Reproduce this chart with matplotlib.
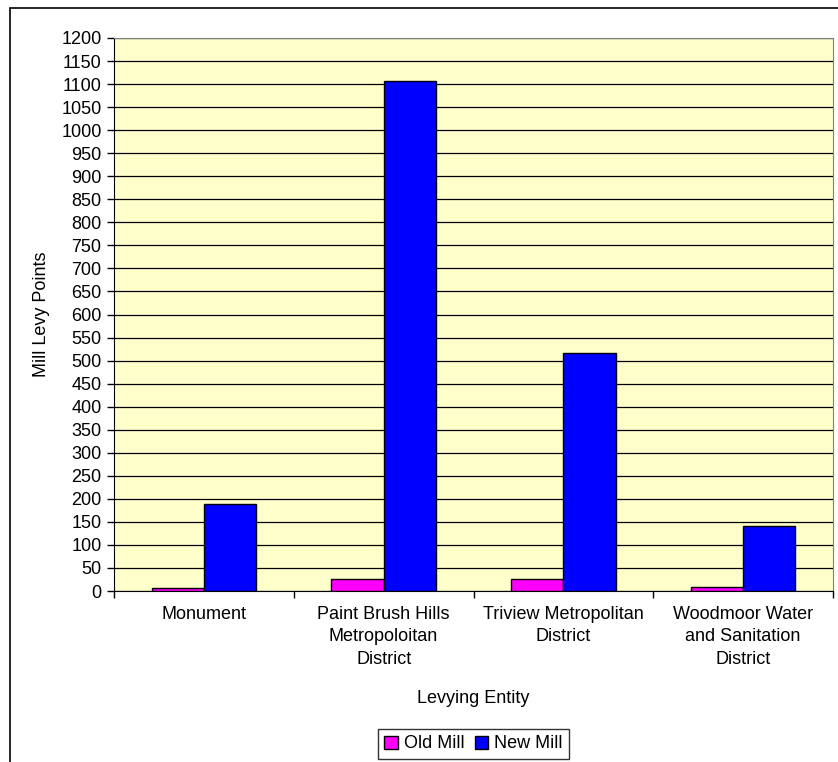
import numpy as np
import matplotlib
matplotlib.use("Agg")
import matplotlib.pyplot as plt
from matplotlib.patches import Rectangle

plt.rcParams['font.family'] = ['Liberation Sans', 'DejaVu Sans']

# data
categories = ["Monument", "Paint Brush Hills\nMetropoloitan\nDistrict",
              "Triview Metropolitan\nDistrict", "Woodmoor Water\nand Sanitation\nDistrict"]
old_mill = [6, 26, 26, 9]
new_mill = [188, 1107, 516, 141]
series_names = ["Old Mill", "New Mill"]
yticks = np.arange(0, 1201, 50)

W, H = 838, 762
fs = 13
fig = plt.figure(figsize=(W / 100, H / 100), dpi=100)

# outer chart frame (right/bottom edges run off the image)
fig.patches.append(Rectangle((10 / W, -0.2), 2, 1 - 8 / H + 0.2, transform=fig.transFigure,
                             fill=False, edgecolor="black", lw=1.2))

ax = fig.add_axes([114 / W, 1 - 591 / H, (833 - 114) / W, (591 - 38) / H])
ax.set_facecolor("#FFFFCC")

x = np.arange(len(categories))
w = 0.29
ax.bar(x - w / 2, old_mill, w, color="#FF00FF", edgecolor="black", lw=1, label=series_names[0], zorder=3)
ax.bar(x + w / 2, new_mill, w, color="#0000FF", edgecolor="black", lw=1, label=series_names[1], zorder=3)

ax.set_xlim(-0.5, len(categories) - 0.5)
ax.set_ylim(0, 1200)
ax.set_yticks(yticks)
ax.yaxis.grid(True, color="black", lw=0.9, zorder=1)
ax.tick_params(axis="y", direction="out", length=5, width=1, pad=4, labelsize=fs)

ax.set_xticks(np.arange(-0.5, len(categories)), labels=[""] * (len(categories) + 1))
ax.set_xticks(x, labels=categories, minor=True)
for lbl in ax.get_xticklabels(minor=True):
    lbl.set_linespacing(1.4)
ax.tick_params(axis="x", which="major", direction="out", length=5, width=1)
ax.tick_params(axis="x", which="minor", length=0, pad=11, labelsize=fs)

for s in ["top", "right"]:
    ax.spines[s].set_color("#808080")
for s in ["left", "bottom"]:
    ax.spines[s].set_color("black")

ax.set_ylabel("Mill Levy Points", fontsize=fs, labelpad=8)
ax.set_xlabel("Levying Entity", fontsize=fs, labelpad=16)

leg = fig.legend(loc="center", bbox_to_anchor=(473.5 / W, 1 - 744 / H), ncol=2, fontsize=fs,
                 frameon=True, fancybox=False, edgecolor="black", handlelength=0.75, handleheight=0.75,
                 handletextpad=0.35, columnspacing=0.55, borderpad=0.35, borderaxespad=0)
leg.get_frame().set_linewidth(1)

fig.savefig("out.png", dpi=100)
